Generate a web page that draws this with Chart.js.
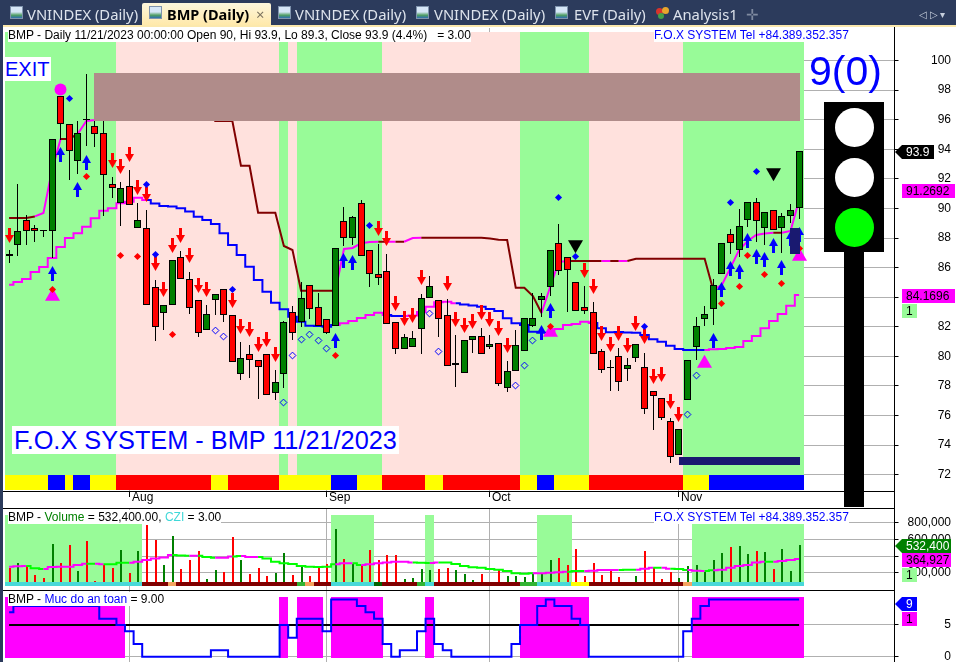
<!DOCTYPE html>
<html>
<head>
<meta charset="utf-8">
<title>BMP Daily</title>
<script src="https://cdn.jsdelivr.net/npm/chart.js@4"></script>
<style>
  html, body { margin: 0; padding: 0; background: #fff; }
  #page { position: relative; width: 956px; height: 662px; overflow: hidden; background: #fff; font-family: "Liberation Sans", Arial, sans-serif; }
  canvas { position: absolute; left: 0; display: block; }
  .abs { position: absolute; white-space: pre; }
  .tab { position: absolute; top: 5px; height: 20px; font: 14.8px/19px "Noto Sans", sans-serif; color: #dde3ec; white-space: pre; }
  .icon { position: absolute; top: 6px; width: 13px; height: 13px; background: linear-gradient(#d6e6f7 45%, #4f9e62 75%, #2f6fb0); border: 1px solid #7f93ad; box-sizing: border-box; }
  .label { position: absolute; background: #fff; font-size: 12px; line-height: 14px; height: 14px; white-space: pre; color: #000; }
  .hline { position: absolute; left: 3px; width: 892px; height: 1px; background: #000; }
</style>
</head>
<body>
<div id="page">
  <canvas id="mainChart" width="956" height="480" style="top:28px"></canvas>
  <canvas id="volumeChart" width="956" height="82" style="top:509px"></canvas>
  <canvas id="safetyChart" width="956" height="71" style="top:591px"></canvas>

  <div class="abs" style="left:0;top:0;width:956px;height:25px;background:#2c3b5c"></div>
  <div class="abs" style="left:0;top:25px;width:956px;height:2px;background:#fbe8ad"></div>
  <div class="abs" style="left:0;top:25px;width:3px;height:637px;background:#2c3b5c"></div>
  <div class="abs" style="left:142px;top:3px;width:129px;height:22px;background:linear-gradient(#fdf6dc,#ffe9ab);border-radius:2px 2px 0 0"></div>
  <span class="icon" style="left:10px"></span><span class="tab" style="left:27px">VNINDEX (Daily)</span>
  <span class="icon" style="left:149px"></span><span class="tab" style="left:167px;color:#000;font-weight:bold;font-size:14.5px">BMP (Daily)</span>
  <span class="tab" style="left:256px;color:#7d7460">×</span>
  <span class="icon" style="left:278px"></span><span class="tab" style="left:295px">VNINDEX (Daily)</span>
  <span class="icon" style="left:416px"></span><span class="tab" style="left:434px">VNINDEX (Daily)</span>
  <span class="icon" style="left:555px"></span><span class="tab" style="left:574px">EVF (Daily)</span>
  <span class="abs" style="left:656px;top:8px;width:7px;height:7px;background:#d8342c;border-radius:4px"></span>
  <span class="abs" style="left:662px;top:7px;width:7px;height:7px;background:#e8a62c;border-radius:4px"></span>
  <span class="abs" style="left:658px;top:13px;width:6px;height:6px;background:#43a047;border-radius:3px"></span>
  <span class="tab" style="left:673px">Analysis1</span>
  <span class="tab" style="left:746px;color:#7f8aa0">✛</span>
  <span class="tab" style="left:919px;color:#c6cedb;font-size:10px">◁ ▷ ▾</span>

  <div class="label" style="left:8px;top:28px">BMP - Daily 11/21/2023 00:00:00 Open 90, Hi 93.9, Lo 89.3, Close 93.9 (4.4%)   = 3.00</div>
  <div class="label" style="left:654px;top:28px;color:#0000ff">F.O.X SYSTEM Tel +84.389.352.357</div>
  <div class="abs" style="left:5px;top:57px;width:46px;height:24px;background:#fff;color:#0000ff;font-size:20px;line-height:24px">EXIT</div>
  <div class="abs" style="left:12px;top:426px;height:28px;padding:0 2px;background:#fff;color:#0000ff;font-size:25.3px;line-height:28px">F.O.X SYSTEM - BMP 11/21/2023</div>
  <div class="abs" style="left:809px;top:47px;color:#0000ff;font-size:41px;line-height:48px">9(0)</div>

  <div class="abs" style="left:824px;top:102px;width:60px;height:150px;background:#000"></div>
  <div class="abs" style="left:844px;top:252px;width:20px;height:255px;background:#000"></div>
  <div class="abs" style="left:835px;top:108px;width:39px;height:39px;border-radius:50%;background:#fff"></div>
  <div class="abs" style="left:835px;top:158px;width:39px;height:39px;border-radius:50%;background:#fff"></div>
  <div class="abs" style="left:835px;top:208px;width:39px;height:39px;border-radius:50%;background:#00ff00"></div>

  <div class="hline" style="top:491px"></div>
  <div class="hline" style="top:508px"></div>
  <div class="hline" style="top:590px"></div>
  <div class="abs" style="left:894px;top:27px;width:1px;height:635px;background:#000"></div>

  <div class="label" style="left:8px;top:510px">BMP - <span style="color:#008000">Volume</span> = 532,400.00, <span style="color:#40d8d8">CZI</span> = 3.00</div>
  <div class="label" style="left:654px;top:510px;color:#0000ff">F.O.X SYSTEM Tel +84.389.352.357</div>
  <div class="label" style="left:8px;top:592px">BMP - <span style="color:#0000ff">Muc do an toan</span> = 9.00</div>
</div>

<script>
// daily bars, left to right
const opens = [86.9,87.5,89.2,88.65,88.55,88.5,97.6,95.7,93.2,96.03,
  95.6,95.1,91.65,90.4,91.5,88.7,88.65,84.7,82.95,83.5,
  86.75,85.2,83.8,81.75,83.8,84.55,82.8,78.8,80.14,79.73,
  80.14,77.5,78.8,82.98,82.3,84.8,83.34,82.5,82.03,89.13,
  87.98,90.35,87.17,85.55,85.75,82.3,80.48,80.61,81.83,83.93,
  83.79,82.78,79.4,78.86,81.09,81.36,80.61,80.88,77.84,78.99,
  80.34,82.03,83.79,84.67,87.65,86.7,85,83.32,82.98,80.34,
  79.29,80,79.13,79.87,79.26,77.64,77.17,75.61,73.31,77.03,
  80.61,82.5,83.18,85.55,88.25,87.17,89.2,90.42,88.66,89.88,
  88.66,89.47,90];
const highs = [87.2,91.65,89.55,88.9,88.55,94.7,97.6,95.7,95.9,99.1,
  96,95.9,92.15,91.8,92.6,90.4,89.9,85.15,83.45,86.5,
  87.1,85.7,83.8,83.5,84.25,84.55,82.8,80.97,80.75,79.73,
  80.14,79.08,82.4,83.4,85.03,84.8,84.26,82.5,87.3,90.08,
  89.5,90.57,87.17,87.6,86.92,82.3,81.49,81.72,84.2,85.43,
  83.79,83.86,81.45,81.09,81.36,81.9,81.45,80.88,79.67,81.76,
  82.57,84.26,84.26,87.17,88.95,86.7,85,84.74,83.66,80.5,
  79.76,80.55,79.9,80.82,80.23,77.64,77.17,75.81,75.07,79.73,
  82.64,83.39,85.21,87.65,88.59,89.94,90.42,90.69,89.74,89.88,
  89.67,90.28,93.9];
const lows = [86.3,86.8,87.5,87.75,88.1,86.65,94.6,91.9,92.3,94.2,
  94.15,89.5,90.7,88.8,90.2,88.7,83.45,81.05,81.8,83.5,
  85.2,82.85,81.3,81.75,82.8,82.35,79.6,78.4,78.56,77.14,
  77.37,77.05,77.86,81.1,82,82.55,82.07,81.5,82.03,87.48,
  87.5,86.77,84.71,84.83,82.2,80.16,80.48,80.61,80.18,83.93,
  81.33,79.33,77.91,78.86,80.2,80.14,80.5,78,77.59,78.99,
  80.34,82,82.64,84.1,85.5,83.02,83.05,82.85,80.14,78.88,
  77.68,77.68,78.35,79.64,76.12,75,75.68,72.77,73.31,77.03,
  79.76,82.03,82.1,85.55,86.9,86.74,88.77,87.75,87.53,88.52,
  86.97,89,89.3];
const closes = [86.8,88.5,88.5,88.5,88.5,94.7,95.7,93.9,95.1,95.97,
  95.05,92.25,91.35,91.35,90.2,89.25,83.45,82,83.45,86.5,
  85.2,83.25,81.6,82.85,84.25,82.8,79.6,79.87,79.73,79.26,
  77.37,78.25,82.3,81.56,83.93,83.18,82.07,81.6,87.3,87.98,
  89.4,86.77,85.55,85.28,82.2,80.48,81.29,81.22,83.93,84.74,
  82.5,79.33,79.53,81.09,81.36,80.14,80.82,78.11,78.99,80.75,
  82.57,82.57,84.06,87.17,85.75,85.82,83.05,83.05,80.14,79.06,
  79.23,78.25,79.4,80.82,76.42,77.3,75.81,73.18,75.07,79.73,
  82.03,82.85,84.8,87.65,87.65,88.8,90.42,89.13,89.74,88.52,
  89.47,89.88,93.9];

const upperLine = [89.36,89.36,89.36,89.46,89.69,92.6,94.7,94.7,95.04,95.91,
  95.98,96.65,96.65,96.65,96.65,96.65,96.65,96.65,96.65,96.65,
  96.65,96.65,96.65,96.65,95.91,95.91,95.91,92.89,92.89,89.71,
  89.71,89.71,87.46,87.19,84.44,84.44,84.44,84.44,84.44,87.26,
  87.33,87.65,87.73,87.75,87.75,87.75,87.75,88,88.02,88.02,
  88.02,88.02,88.02,88.02,88.02,88.02,87.97,87.89,87.87,84.64,
  84.64,84.08,82.93,84.67,86.38,86.45,86.45,86.45,86.45,86.45,
  86.45,86.45,86.45,86.6,86.6,86.6,86.6,86.6,86.6,86.6,
  86.6,86.6,84.49,84.83,85.98,87.19,87.8,88.21,88.31,88.36,
  88.36,88.48,90.57];
const lowerLine = [84.85,85.03,85.23,85.71,86.04,86.65,87.4,88,88.32,88.77,
  89.34,89.85,90.01,90.35,90.46,90.73,90.57,90.34,90.17,90.13,
  90.01,89.8,89.44,89.22,88.95,88.32,87.53,86.85,86.06,85.16,
  84.37,83.63,83.18,82.68,82.34,82.07,82.05,82,82.12,82.24,
  82.39,82.6,82.8,82.95,82.8,82.73,82.73,82.76,83,83.36,
  83.66,83.7,83.59,83.51,83.44,83.36,83.2,83.07,82.57,82.24,
  82.12,81.67,81.6,81.56,81.85,82.12,82.19,82.34,82.26,81.9,
  81.63,81.65,81.62,81.6,81.45,81.15,80.99,80.72,80.5,80.43,
  80.43,80.43,80.48,80.5,80.57,80.63,81.04,81.38,81.9,82.39,
  82.87,83.43,84.15];

// [bar, price]
const sellArrows = [[0,88.17],[12,93.24],[13,92.87],[14,93.65],[15,91.42],[16,90.95],[17,86.25],[18,84.49],[19,87.5],[20,88.17],
  [21,86.79],[22,84.79],[23,84.52],[26,83.78],[27,82.02],[28,81.82],[29,80.8],[30,81.14],[31,80.13],[43,88.65],
  [44,87.97],[45,83.58],[46,82.56],[47,82.76],[48,85.3],[51,84.93],[52,82.49],[53,82.09],[54,82.36],[55,82.97],
  [56,82.49],[57,81.88],[58,80.74],[67,85.81],[68,84.72],[69,81.55],[70,80.8],[71,81.55],[72,80.74],[73,82.22],
  [74,81.31],[75,78.64],[76,78.77],[77,76.92],[78,76.07]];
const buyArrows = [[5,85.6],[6,93.68],[8,91.28],[9,93.14],[38,81.07],[39,86.45],[40,86.35],[62,81.61],[63,83.1],[82,81.07],
  [83,84.52],[84,85.91],[85,85.74],[86,87.84],[87,86.75],[88,86.58],[89,87.5],[90,85.98],[91,87.97],[92,88.27]];
const redDots = [[9,92.15],[5,84.54],[13,86.81],[15,86.74],[19,81.51],[38,80.05],[63,82.05],[83,83.56],[85,84.71],[86,86.79],
  [88,85.52],[90,84.96],[92,87.26]];
const blueDots = [[7,97.42],[16,91.65],[17,86.92],[26,84.49],[42,88.88],[64,90.71],[66,86.72],[74,81.99],[84,90.39],[87,92.47]];
const hollowDots = [[24,81.78],[25,81.31],[32,76.85],[33,80.09],[34,81.11],[35,81.51],[36,81.04],[37,80.5],[49,82.93],[50,80.3],
  [59,78],[60,79.35],[61,81.04],[79,76.04],[80,78.74]];
const upTriangles = [[5,84.03],[63,81.58],[81,79.5],[92,86.74]];
const downTriangles = [[66,87.58],[89,92.45]];
const exitCircles = [[6,98.06]];

// [first bar, last bar, top price, bottom price]
const resistanceBoxes = [[9.86,92.08,99.16,95.91]];
const supportBoxes = [[77.99,92.08,73.2,72.68],[90.92,92.08,88.7,86.92]];

// run lengths [bars, state]
const zoneRuns = [[13,1],[19,0],[1,1],[1,0],[10,1],[16,0],[8,1],[11,0],[14,1]];
const stripRuns = [[5,0],[2,1],[1,0],[2,1],[3,0],[11,2],[2,0],[6,2],[6,0],[3,1],[3,0],[5,2],[2,0],[9,2],[2,0],[2,1],[4,0],[11,2],[3,0],[11,1]];
const upperRuns = [[3,0],[3,1],[2,0],[3,1],[27,0],[5,1],[1,0],[1,1],[1,0],[2,1],[14,0],[3,1],[4,0],[1,1],[1,0],[1,1],[10,0],[7,1],[1,0],[3,1]];
const lowerRuns = [[16,1],[22,0],[6,1],[2,0],[6,1],[11,0],[5,1],[13,0],[12,1]];
const czi = [[16,0],[3,1],[1,2],[14,1],[1,3],[1,2],[2,1],[5,0],[1,4],[4,1],[1,3],[1,0],[10,1],[2,3],[4,0],[2,5],[11,1],[1,2],[13,0]];
const volumeAvgRuns = [[2,1],[2,0],[5,1],[1,0],[1,1],[3,0],[5,1],[2,0],[1,1],[2,0],[2,1],[1,0],[2,1],[9,0],[2,1],[1,0],[6,1],[2,0],[1,1],[11,0],[4,1],[2,0],[4,1],[2,0],[2,1],[1,0],[1,1],[2,0],[2,1],[1,0],[6,1],[1,0],[4,1]];

const volumesK = [260,312,280,172,140,545,312,533,220,581,
  100,292,256,473,196,461,774,593,292,641,
  244,353,461,124,232,208,629,353,184,256,
  160,196,437,172,276,160,268,304,726,365,
  308,296,473,353,413,413,124,136,244,232,
  244,256,232,184,112,184,88,244,160,160,
  148,180,196,353,377,292,485,160,316,172,
  220,148,88,160,461,256,124,208,136,280,
  292,208,353,437,509,521,425,461,449,244,
  485,220,532.4];
const volumeAvgK = [272,276,280,252,244,268,272,272,292,308,
  308,300,300,320,320,332,352,372,384,412,
  408,404,404,388,380,380,396,400,388,388,
  372,332,312,304,280,272,268,272,300,312,
  312,292,300,312,324,332,332,324,320,316,
  324,324,304,280,264,260,244,236,220,192,
  188,192,192,200,204,212,220,220,224,232,
  232,232,236,236,248,260,260,248,244,232,
  224,220,228,236,260,280,292,324,332,332,
  340,352,364.927];
const safety = [7,8,8,8,8,8,8,8,8,8,
  8,6,6,5,4,2,0,0,0,0,
  0,0,0,0,1,1,0,0,0,0,
  0,0,5,3,6,6,6,4,9,9,
  9,8,7,6,2,0,1,1,4,6,
  2,1,0,0,0,0,0,0,0,2,
  5,5,8,9,8,8,6,5,0,0,
  0,0,0,0,0,0,0,0,0,4,
  6,8,9,9,9,9,9,9,9,9,
  9,9,9];

const monthBars = [14,37,56,78];
const monthLabels = ['Aug','Sep','Oct','Nov'];
const priceTicks = [72,74,76,78,80,82,84,86,88,90,92,94,96,98,100];
const volumeTicks = [200000,400000,600000,800000];
const safetyTicks = [0,5];

const bars = opens.map((_, i) => i);
const expand = runs => runs.flatMap(([n, v]) => Array(n).fill(v));
const pts = list => list.map(([x, y]) => ({ x, y }));
const zones = expand(zoneRuns);
const strip = expand(stripRuns);
const upperState = expand(upperRuns);
const lowerState = expand(lowerRuns);
const cziState = expand(czi);
const volumeAvgState = expand(volumeAvgRuns);

const X_MIN = -0.4775, X_MAX = 103.108;
const AXIS_WIDTH = 56.5;

Chart.defaults.font.family = '"Liberation Sans", Arial, sans-serif';
Chart.defaults.font.size = 12;
Chart.defaults.color = '#000';

function arrowIcon(color, up) {
  const c = document.createElement('canvas');
  c.width = 9; c.height = 15;
  const g = c.getContext('2d');
  g.fillStyle = color;
  if (!up) { g.translate(0, 15); g.scale(1, -1); }
  g.beginPath();
  g.moveTo(4.5, 0); g.lineTo(9, 8); g.lineTo(6, 8); g.lineTo(6, 15);
  g.lineTo(3, 15); g.lineTo(3, 8); g.lineTo(0, 8); g.closePath();
  g.fill();
  return c;
}

// keep candles and wicks on whole pixels
const snapBars = {
  id: 'snapBars',
  afterDatasetsUpdate(chart) {
    chart.getSortedVisibleDatasetMetas().forEach(meta => {
      if (meta.type === 'line') return;
      meta.data.forEach(el => {
        const col = Math.floor(el.x);
        if (meta.type === 'bar') {
          el.x = Math.round(el.width) % 2 === 0 ? col + 1 : col + 0.5;
          el.y = Math.round(el.y);
          el.base = Math.round(el.base);
          if (el.y === el.base) el.base += 1;
        } else {
          el.x = col + 0.5;
          el.y = Math.floor(el.y) + 0.5;
        }
      });
    });
  }
};

function drawBoxes(chart, boxes, color) {
  const { ctx, scales: { x, y } } = chart;
  ctx.fillStyle = color;
  boxes.forEach(([x0, x1, top, bottom]) => {
    const l = Math.round(x.getPixelForValue(x0)), r = Math.round(x.getPixelForValue(x1));
    const t = Math.round(y.getPixelForValue(top)), b = Math.round(y.getPixelForValue(bottom));
    ctx.fillRect(l, t, r - l, b - t);
  });
}

function drawTag(chart, centerY, text, fill, color, right, arrow) {
  const ctx = chart.ctx;
  const top = Math.round(centerY - 7);
  ctx.save();
  ctx.fillStyle = fill;
  ctx.beginPath();
  if (arrow) {
    ctx.moveTo(895, top + 7); ctx.lineTo(902, top); ctx.lineTo(right, top);
    ctx.lineTo(right, top + 14); ctx.lineTo(902, top + 14);
  } else {
    ctx.rect(902, top, right - 902, 14);
  }
  ctx.closePath();
  ctx.fill();
  ctx.fillStyle = color;
  ctx.font = '12px "Liberation Sans", Arial, sans-serif';
  ctx.textBaseline = 'middle';
  ctx.textAlign = 'left';
  ctx.fillText(text, 906, top + 7.5);
  ctx.restore();
}

const mainOverlay = {
  id: 'mainOverlay',
  afterDatasetsDraw(chart) {
    drawBoxes(chart, resistanceBoxes, '#b08c8a');
    drawBoxes(chart, supportBoxes, '#191970');
  },
  afterDraw(chart) {
    const { ctx, scales: { x, y } } = chart;
    const last = closes[closes.length - 1];
    drawTag(chart, y.getPixelForValue(last) + 1, last.toFixed(1), '#000', '#fff', 934, true);
    drawTag(chart, y.getPixelForValue(91.2692) + 1, '91.2692', '#ff00ff', '#000', 955, false);
    drawTag(chart, y.getPixelForValue(84.1696) + 1, '84.1696', '#ff00ff', '#000', 955, false);
    drawTag(chart, y.getPixelForValue(84.1696) + 16, '1', '#98fb98', '#000', 917, false);
    ctx.save();
    ctx.fillStyle = '#000';
    ctx.font = '12px "Liberation Sans", Arial, sans-serif';
    ctx.textBaseline = 'middle';
    monthBars.forEach((b, i) => ctx.fillText(monthLabels[i], Math.floor(x.getPixelForValue(b)) + 3, chart.chartArea.bottom + 7));
    ctx.restore();
  }
};

const volumeOverlay = {
  id: 'volumeOverlay',
  afterDraw(chart) {
    const y = chart.scales.y;
    const vol = volumesK[92] * 1000, avg = volumeAvgK[92] * 1000;
    drawTag(chart, y.getPixelForValue(vol) + 0.7, Math.round(vol).toLocaleString('en-US'), '#008000', '#fff', 951, true);
    drawTag(chart, y.getPixelForValue(avg) + 1.3, Math.round(avg).toLocaleString('en-US'), '#ff00ff', '#000', 951, false);
    drawTag(chart, y.getPixelForValue(avg) + 16.3, '1', '#98fb98', '#000', 917, false);
  }
};

const safetyOverlay = {
  id: 'safetyOverlay',
  afterDraw(chart) {
    const y = chart.scales.y;
    const v = safety[92];
    drawTag(chart, y.getPixelForValue(v) + 4, String(v), '#0000ff', '#fff', 917, true);
    drawTag(chart, y.getPixelForValue(v) + 19, '1', '#ff00ff', '#000', 917, false);
  }
};

function baseOptions(yMin, yMax, yTicks, showMonths, axisHeight, bottomPad) {
  return {
    responsive: false,
    animation: false,
    events: [],
    layout: { autoPadding: false, padding: { left: 5, right: 5, top: 0, bottom: bottomPad } },
    plugins: { legend: { display: false }, tooltip: { enabled: false } },
    scales: {
      x: {
        type: 'linear',
        min: X_MIN,
        max: X_MAX,
        offset: false,
        border: { display: false },
        grid: {
          offset: false,
          color: '#b0b0b0',
          borderDash: [1, 2],
          drawTicks: showMonths,
          tickLength: 6,
          tickColor: '#000',
          tickBorderDash: []
        },
        ticks: { display: false },
        afterBuildTicks: s => { s.ticks = monthBars.map(value => ({ value })); },
        afterFit: s => { s.height = axisHeight; s.paddingLeft = 0; s.paddingRight = 0; }
      },
      y: {
        position: 'right',
        min: yMin,
        max: yMax,
        border: { display: false },
        grid: {
          color: '#b0b0b0',
          borderDash: [1, 2],
          tickLength: 4,
          tickColor: '#000',
          tickBorderDash: []
        },
        ticks: {
          crossAlign: 'far',
          autoSkip: false,
          callback: v => v.toLocaleString('en-US')
        },
        afterBuildTicks: s => { s.ticks = yTicks.map(value => ({ value })); },
        afterFit: s => { s.width = AXIS_WIDTH; s.paddingTop = 0; s.paddingBottom = 0; }
      }
    }
  };
}

const floatBar = (order, thickness, extra) => Object.assign({
  type: 'bar',
  order,
  grouped: false,
  barThickness: thickness,
  inflateAmount: 0,
  borderWidth: 0,
  borderSkipped: false
}, extra);

const markers = (order, list, extra) => Object.assign({
  type: 'scatter',
  order,
  data: pts(list),
  borderWidth: 0
}, extra);

const lineSet = (order, data, state, colors, stepped) => ({
  type: 'line',
  order,
  data: bars.map(i => ({ x: i, y: data[i] })),
  borderWidth: 2,
  pointRadius: 0,
  stepped,
  borderColor: colors[0],
  segment: { borderColor: c => colors[state[c.p0DataIndex]] }
});

const PINK = '#ffe1dd', GREEN = '#98fb98', UP = '#008000', DOWN = '#ff0000';
const candleColor = i => (closes[i] < opens[i] ? DOWN : UP);

new Chart(document.getElementById('mainChart'), {
  type: 'bar',
  plugins: [snapBars, mainOverlay],
  data: {
    datasets: [
      floatBar(20, 9, {
        data: bars.map(i => ({ x: i, y: [70.96, 101.93] })),
        backgroundColor: bars.map(i => (zones[i] ? GREEN : PINK))
      }),
      floatBar(19, 9, {
        data: bars.map(i => ({ x: i, y: [70.96, 71.98] })),
        backgroundColor: bars.map(i => ['#ffff00', '#0000ff', '#ff0000'][strip[i]])
      }),
      lineSet(15, upperLine, upperState, ['#800000', '#ff00ff'], false),
      lineSet(14, lowerLine, lowerState, ['#0000ff', '#ff00ff'], 'middle'),
      floatBar(12, 1, {
        data: bars.map(i => ({ x: i, y: [lows[i], highs[i]] })),
        backgroundColor: '#000'
      }),
      floatBar(11, 7, {
        data: bars.map(i => ({ x: i, y: [opens[i], closes[i]] })),
        backgroundColor: bars.map(candleColor),
        borderColor: '#000',
        borderWidth: 1
      }),
      markers(9, upTriangles, { pointStyle: 'triangle', pointRadius: 8.66, backgroundColor: '#ff00ff' }),
      markers(8, downTriangles, { pointStyle: 'triangle', pointRotation: 180, pointRadius: 8.66, backgroundColor: '#000' }),
      markers(7, buyArrows, { pointStyle: arrowIcon('#0000ff', true) }),
      markers(6, sellArrows, { pointStyle: arrowIcon('#ff0000', false) }),
      markers(5, redDots, { pointStyle: 'rectRot', pointRadius: 3.6, backgroundColor: '#ff0000' }),
      markers(4, blueDots, { pointStyle: 'rectRot', pointRadius: 3.6, backgroundColor: '#0000ff' }),
      markers(3, hollowDots, { pointStyle: 'rectRot', pointRadius: 3.4, backgroundColor: 'rgba(0,0,0,0)', borderColor: '#0000ff', borderWidth: 1 }),
      markers(2, exitCircles, { pointStyle: 'circle', pointRadius: 6, backgroundColor: '#ff00ff' })
    ]
  },
  options: baseOptions(70.898, 102.2, priceTicks, true, 17, 0)
});

new Chart(document.getElementById('volumeChart'), {
  type: 'bar',
  plugins: [snapBars, volumeOverlay],
  data: {
    datasets: [
      floatBar(10, 9, {
        data: bars.filter(i => cziState[i] === 0).map(i => ({ x: i, y: [51700, 894100] })),
        backgroundColor: GREEN
      }),
      floatBar(8, 2, {
        data: bars.map(i => ({ x: i, y: [51700, volumesK[i] * 1000] })),
        backgroundColor: bars.map(candleColor)
      }),
      floatBar(7, 9, {
        data: bars.map(i => ({ x: i, y: [43300, 87800] })),
        backgroundColor: bars.map(i => ['#48d8d8', '#800000', '#f4a460', '#32b432', '#006400', '#ffff00'][cziState[i]])
      }),
      lineSet(5, volumeAvgK.map(v => v * 1000), volumeAvgState, ['#00ff00', '#ff00ff'], 'middle')
    ]
  },
  options: baseOptions(-14440, 966306, volumeTicks, false, 0, 0.5)
});

new Chart(document.getElementById('safetyChart'), {
  type: 'bar',
  plugins: [snapBars, safetyOverlay],
  data: {
    datasets: [
      floatBar(10, 9, {
        data: bars.filter(i => safety[i] >= 5).map(i => ({ x: i, y: [-0.2, 9.46] })),
        backgroundColor: '#ff00ff'
      }),
      {
        type: 'line',
        order: 6,
        data: bars.map(i => ({ x: i, y: 5 })),
        borderColor: '#000',
        borderWidth: 2,
        pointRadius: 0
      },
      {
        type: 'line',
        order: 5,
        data: bars.map(i => ({ x: i, y: safety[i] })),
        stepped: 'middle',
        borderColor: '#0000ff',
        borderWidth: 2,
        pointRadius: 0
      }
    ]
  },
  options: baseOptions(-0.836, 10.36, safetyTicks, false, 0, 0)
});
</script>
</body>
</html>
